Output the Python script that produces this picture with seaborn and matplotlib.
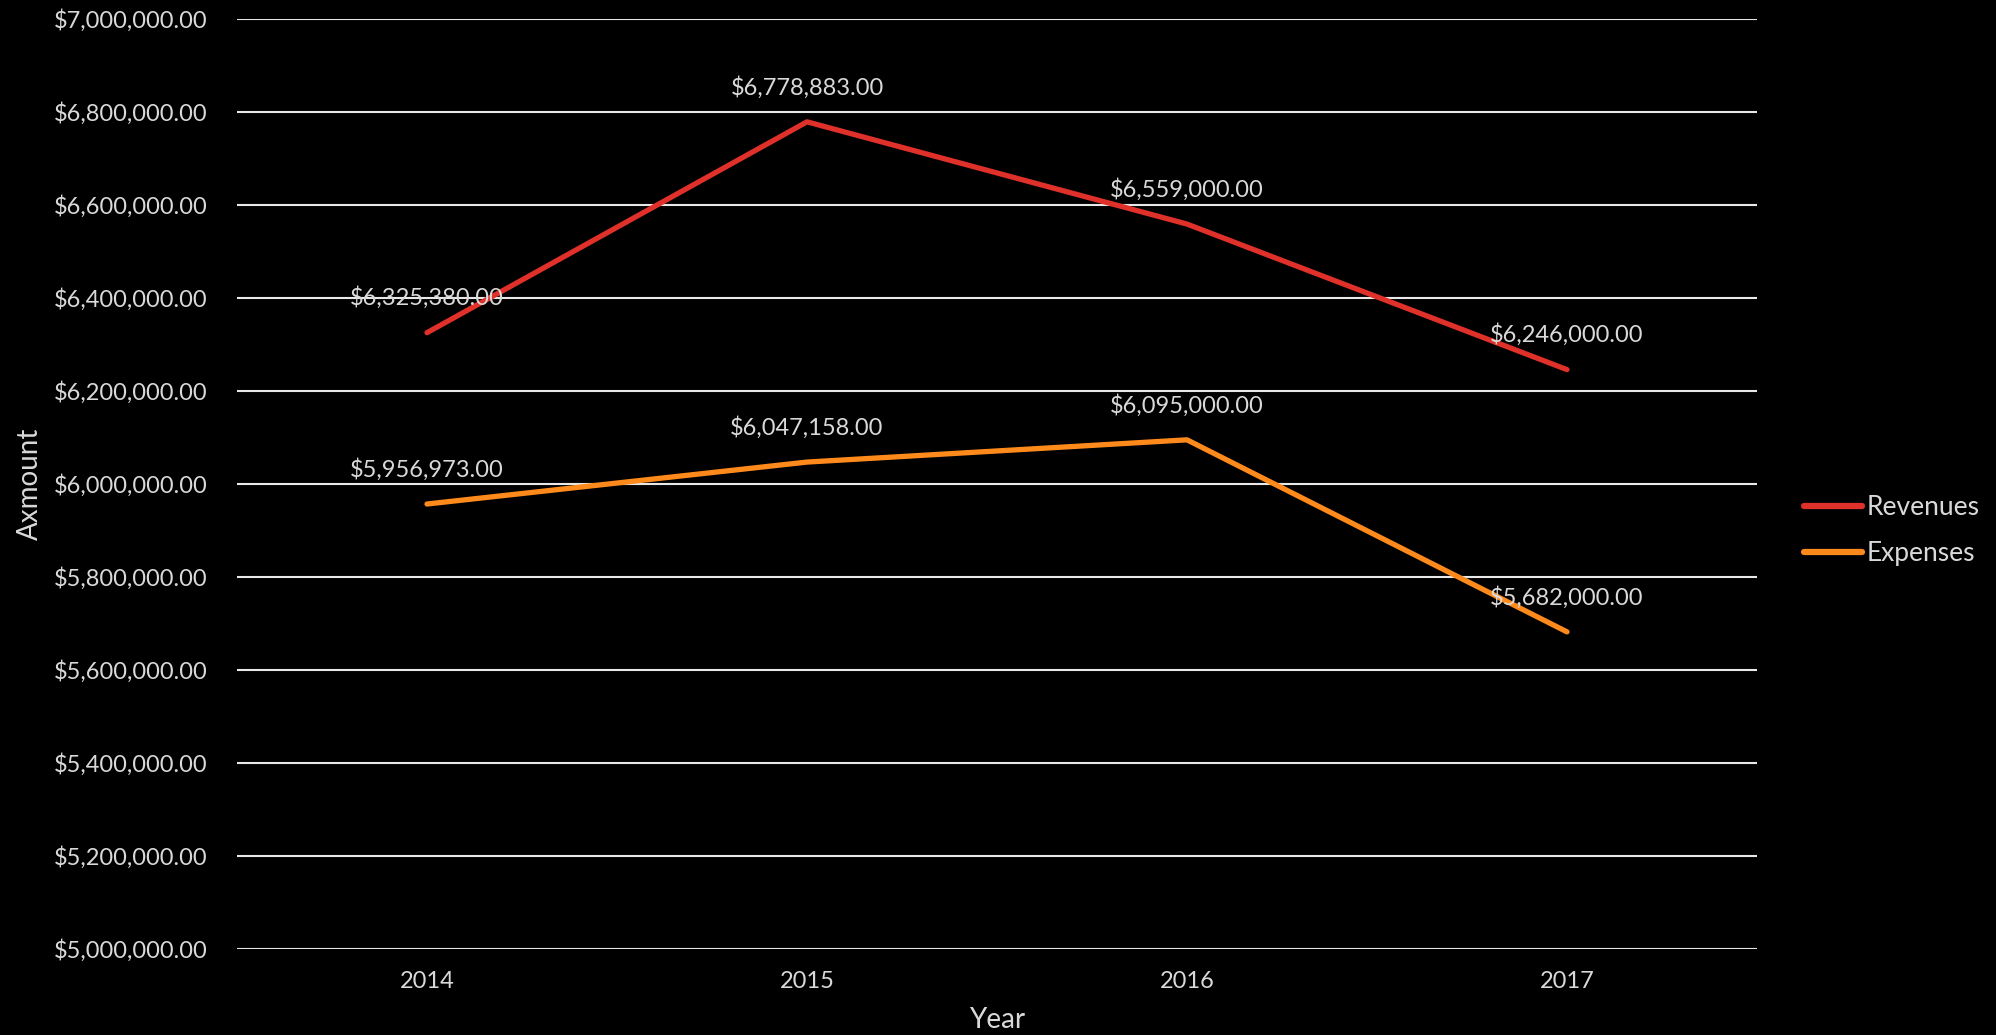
import matplotlib
matplotlib.use("Agg")
import matplotlib.pyplot as plt
import matplotlib.ticker as mticker
import pandas as pd
import seaborn as sns

years = ['2014', '2015', '2016', '2017']
revenues = [6325380, 6778883, 6559000, 6246000]
expenses = [5956973, 6047158, 6095000, 5682000]
series_names = ['Revenues', 'Expenses']
series_colors = ['#e0302a', '#ff8a1c']

df = pd.DataFrame({
    'Year': years * 2,
    'Amount': revenues + expenses,
    'Series': [series_names[0]] * 4 + [series_names[1]] * 4,
})

sns.set_theme(style='dark')
plt.rcParams['font.family'] = ['Lato', 'DejaVu Sans']
text_col = '#d9d9d9'

fig = plt.figure(figsize=(19.96, 10.35), dpi=100, facecolor='black')
ax = fig.add_axes([237 / 1996, 86 / 1035, 1520 / 1996, 930 / 1035])
ax.set_facecolor('black')

sns.lineplot(data=df, x='Year', y='Amount', hue='Series',
             palette=series_colors, linewidth=3.8, ax=ax,
             solid_capstyle='round', legend=True)

# data labels
for vals in (revenues, expenses):
    for i, v in enumerate(vals):
        ax.annotate(f'${v:,.2f}', (i, v), xytext=(0, 25), textcoords='offset points',
                    ha='center', va='center', color=text_col, fontsize=17)

ax.set_ylim(5000000, 7000000)
ax.set_xlim(-0.5, 3.5)
ax.yaxis.set_major_locator(mticker.MultipleLocator(200000))
ax.yaxis.set_major_formatter(mticker.StrMethodFormatter('${x:,.2f}'))
ax.grid(axis='y', color='#e8e8e8', linewidth=1.5)
ax.grid(axis='x', visible=False)
ax.set_axisbelow(True)
for s in ax.spines.values():
    s.set_visible(False)
ax.tick_params(axis='both', colors=text_col, labelsize=17, length=0)
ax.tick_params(axis='y', pad=21)
ax.tick_params(axis='x', pad=16)

ax.set_xlabel('Year', color=text_col, fontsize=20)
ax.set_ylabel('Axmount', color=text_col, fontsize=20)
ax.yaxis.set_label_coords(-0.128, 0.5)
ax.xaxis.set_label_coords(0.5, -0.062)

leg = ax.legend(loc='center left', bbox_to_anchor=(1.015, 0.45), frameon=False,
                fontsize=19, handlelength=2.2, handletextpad=0.2, labelspacing=0.8)
for t in leg.get_texts():
    t.set_color(text_col)
for h in leg.get_lines():
    h.set_linewidth(4.5)

fig.savefig('out.png', dpi=100, facecolor='black')
